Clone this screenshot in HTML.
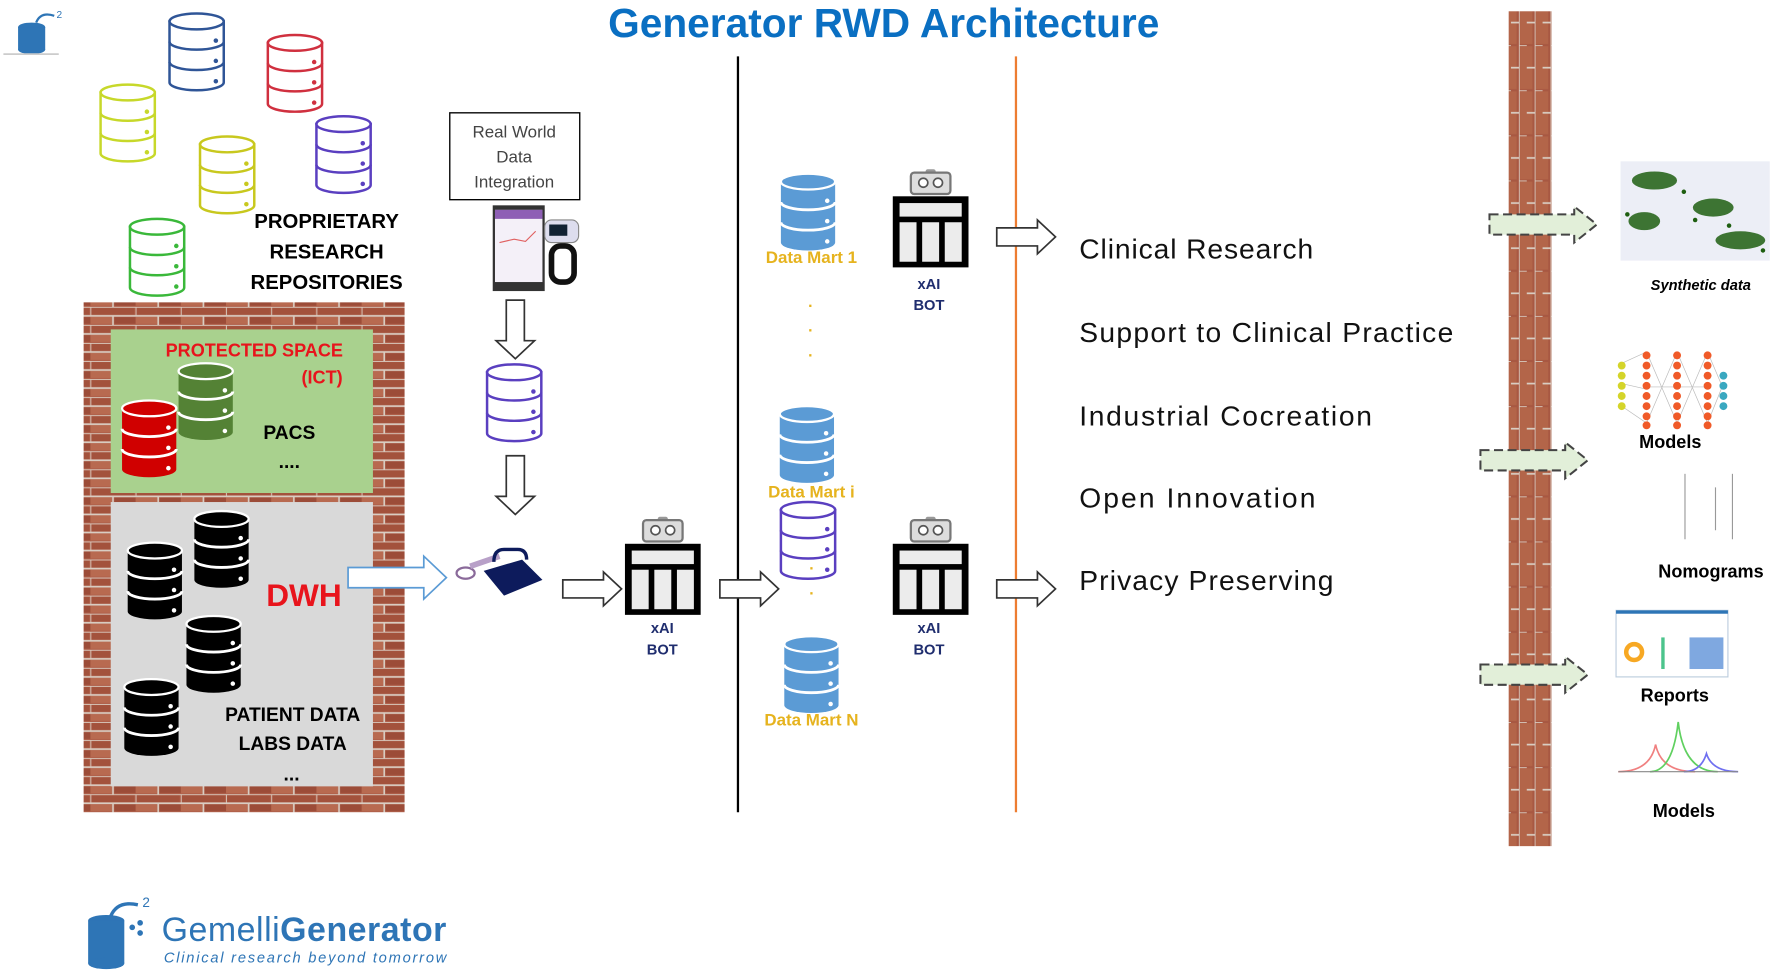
<!DOCTYPE html>
<html><head><meta charset="utf-8"><style>
html,body{margin:0;padding:0;background:#fff;width:1772px;height:977px;overflow:hidden}
svg{display:block}
text{font-family:"Liberation Sans","DejaVu Sans",sans-serif}
</style></head><body>
<svg width="1772" height="977" viewBox="0 0 1568 866" preserveAspectRatio="none" xmlns="http://www.w3.org/2000/svg">
<defs>
<pattern id="brick" width="40" height="16" patternUnits="userSpaceOnUse">
<rect width="40" height="16" fill="#b0604a"/>
<rect x="1" y="1" width="38" height="6" fill="#a3523c"/>
<rect x="-19" y="9" width="38" height="6" fill="#b86a50"/>
<rect x="21" y="9" width="38" height="6" fill="#9c4c38"/>
<path d="M0 0H40M0 8H40M0 0V8M20 8V16" stroke="#d9cdc2" stroke-width="1.5"/>
</pattern>
<pattern id="brickv" width="14" height="40" patternUnits="userSpaceOnUse">
<rect width="14" height="40" fill="#a85842"/>
<rect x="1" y="1" width="11" height="38" fill="#b36549"/>
<path d="M0 0V40M0 0H7M7 20H14" stroke="#d9cdc2" stroke-width="1.5"/>
</pattern>
<g id="cylO">
<path d="M1 8V62A24 7 0 0 0 49 62V8Z" fill="#fff" stroke="currentColor" stroke-width="2.2"/>
<ellipse cx="25" cy="8" rx="24" ry="7" fill="#fff" stroke="currentColor" stroke-width="2.2"/>
<path d="M1 26A24 7 0 0 0 49 26M1 44A24 7 0 0 0 49 44" fill="none" stroke="currentColor" stroke-width="2.2"/>
<circle cx="42" cy="25" r="2" fill="currentColor"/><circle cx="42" cy="43" r="2" fill="currentColor"/><circle cx="42" cy="61" r="2" fill="currentColor"/>
</g>
<g id="cylF">
<path d="M1 8V62A24 7 0 0 0 49 62V8Z" fill="currentColor"/>
<ellipse cx="25" cy="8" rx="24" ry="7" fill="currentColor" stroke="#fff" stroke-width="2"/>
<path d="M1 26A24 7 0 0 0 49 26M1 44A24 7 0 0 0 49 44" fill="none" stroke="#fff" stroke-width="2.5"/>
<circle cx="42" cy="25" r="2" fill="#fff"/><circle cx="42" cy="43" r="2" fill="#fff"/><circle cx="42" cy="61" r="2" fill="#fff"/>
</g>
<g id="bot">
<rect x="29" y="0" width="9" height="5" rx="2" fill="#999"/>
<rect x="16" y="3" width="35" height="19" rx="3" fill="#ddd" stroke="#777" stroke-width="2"/>
<circle cx="27" cy="12" r="4" fill="#fff" stroke="#555" stroke-width="1.5"/><circle cx="40" cy="12" r="4" fill="#fff" stroke="#555" stroke-width="1.5"/>
<rect x="0" y="24" width="67" height="63" fill="#000"/>
<rect x="6" y="30" width="55" height="12" fill="#ececec"/>
<rect x="6" y="47" width="15" height="35" fill="#ececec"/><rect x="26" y="47" width="15" height="35" fill="#ececec"/><rect x="46" y="47" width="15" height="35" fill="#ececec"/>
</g>
<polygon id="arR" points="0,-8 36,-8 36,-15 52,0 36,15 36,8 0,8" fill="#fff" stroke="#333" stroke-width="1.5"/>
<polygon id="arD" points="-8,0 8,0 8,36 17,36 0,52 -17,36 -8,36" fill="#fff" stroke="#333" stroke-width="1.5"/>
<polygon id="arG" points="0,-9 75,-9 75,-16 95,0 75,16 75,9 0,9" fill="#e2efd9" stroke="#444" stroke-width="1.8" stroke-dasharray="8,4"/>
</defs>

<g transform="translate(10,10)" fill="#2e75b6">
<ellipse cx="18" cy="14" rx="12" ry="4"/><rect x="6" y="14" width="24" height="20"/><ellipse cx="18" cy="34" rx="12" ry="4"/>
<path d="M22 10 Q26 0 38 4" stroke="#2e75b6" stroke-width="2" fill="none"/><text x="40" y="6" font-size="9">2</text>
</g>
<line x1="3" y1="48" x2="52" y2="48" stroke="#ccc" stroke-width="1.5"/>

<text x="782" y="33" text-anchor="middle" font-size="36" font-weight="bold" fill="#0a6fc2">Generator RWD Architecture</text>

<use href="#cylO" x="149" y="11" style="color:#2f5597"/>
<use href="#cylO" x="236" y="30" style="color:#d0303f"/>
<use href="#cylO" x="88" y="74" style="color:#c7d82a"/>
<use href="#cylO" x="176" y="120" style="color:#c8c81e"/>
<use href="#cylO" x="279" y="102" style="color:#5a3fc0"/>
<use href="#cylO" x="114" y="193" style="color:#3ab83a"/>
<text x="289" y="202" text-anchor="middle" font-size="18" font-weight="bold" fill="#000">PROPRIETARY</text>
<text x="289" y="229" text-anchor="middle" font-size="18" font-weight="bold" fill="#000">RESEARCH</text>
<text x="289" y="256" text-anchor="middle" font-size="18" font-weight="bold" fill="#000">REPOSITORIES</text>

<rect x="74" y="268" width="284" height="452" fill="url(#brick)"/>
<rect x="98" y="292" width="232" height="145" fill="#a9d18e"/>
<rect x="98" y="445" width="232" height="252" fill="#d9d9d9"/>
<text x="225" y="316" text-anchor="middle" font-size="16" font-weight="bold" fill="#e8141c">PROTECTED SPACE</text>
<text x="285" y="340" text-anchor="middle" font-size="16" font-weight="bold" fill="#e8141c">(ICT)</text>
<use href="#cylF" x="107" y="354" style="color:#d00000"/>
<use href="#cylF" x="157" y="321" style="color:#548235"/>
<text x="256" y="389" text-anchor="middle" font-size="17" font-weight="bold">PACS</text>
<text x="256" y="415" text-anchor="middle" font-size="17" font-weight="bold">....</text>
<use href="#cylF" x="112" y="480" style="color:#000"/>
<use href="#cylF" x="171" y="452" style="color:#000"/>
<use href="#cylF" x="164" y="545" style="color:#000"/>
<use href="#cylF" x="109" y="601" style="color:#000"/>
<text x="269" y="537" text-anchor="middle" font-size="28" font-weight="bold" fill="#e8141c">DWH</text>
<text x="259" y="639" text-anchor="middle" font-size="17" font-weight="bold">PATIENT DATA</text>
<text x="259" y="665" text-anchor="middle" font-size="17" font-weight="bold">LABS DATA</text>
<text x="258" y="692" text-anchor="middle" font-size="17" font-weight="bold">...</text>
<polygon points="308,503 375,503 375,493 395,512 375,531 375,521 308,521" fill="#fff" stroke="#5b9bd5" stroke-width="1.5"/>

<rect x="398" y="100" width="115" height="77" fill="#fff" stroke="#000" stroke-width="1.2"/>
<text x="455" y="122" text-anchor="middle" font-size="15" fill="#444">Real World</text>
<text x="455" y="144" text-anchor="middle" font-size="15" fill="#444">Data</text>
<text x="455" y="166" text-anchor="middle" font-size="15" fill="#444">Integration</text>
<rect x="436" y="182" width="46" height="76" fill="#333"/>
<rect x="438" y="186" width="42" height="64" fill="#f4f0f8"/>
<rect x="438" y="186" width="42" height="8" fill="#8e5fb5"/>
<path d="M442 215 L455 212 L465 214 L474 205" stroke="#e06060" fill="none"/>
<rect x="482" y="195" width="30" height="20" rx="6" fill="#dde" stroke="#888"/>
<rect x="486" y="199" width="16" height="10" fill="#123"/>
<rect x="488" y="218" width="20" height="32" rx="8" fill="none" stroke="#111" stroke-width="5"/>
<use href="#arD" x="456" y="266"/>
<use href="#cylO" x="430" y="322" style="color:#5a3fc0"/>
<use href="#arD" x="456" y="404"/>
<ellipse cx="412" cy="508" rx="8" ry="5" fill="none" stroke="#8a6a9a" stroke-width="2"/>
<path d="M416 502 L442 493" stroke="#b8a0c8" stroke-width="5"/>
<path d="M437 498 Q437 487 446 487 L458 487 Q466 487 466 496" fill="none" stroke="#0d1b5c" stroke-width="3"/>
<polygon points="428,506 462,496 480,514 446,528" fill="#0d1b5c"/>
<use href="#arR" x="498" y="522"/>

<use href="#bot" x="553" y="458"/>
<text x="586" y="561" text-anchor="middle" font-size="13" font-weight="bold" fill="#1f2d6e">xAI</text>
<text x="586" y="580" text-anchor="middle" font-size="13" font-weight="bold" fill="#1f2d6e">BOT</text>

<line x1="653" y1="50" x2="653" y2="720" stroke="#000" stroke-width="2"/>
<use href="#arR" x="637" y="522"/>

<use href="#cylF" x="690" y="153" style="color:#5b9bd5"/>
<text x="718" y="233" text-anchor="middle" font-size="15" font-weight="bold" fill="#e6b31e">Data Mart 1</text>
<text x="717" y="272" text-anchor="middle" font-size="14" font-weight="bold" fill="#e6b31e">.</text>
<text x="717" y="294" text-anchor="middle" font-size="14" font-weight="bold" fill="#e6b31e">.</text>
<text x="717" y="316" text-anchor="middle" font-size="14" font-weight="bold" fill="#e6b31e">.</text>
<use href="#cylF" x="689" y="359" style="color:#5b9bd5"/>
<text x="718" y="441" text-anchor="middle" font-size="15" font-weight="bold" fill="#e6b31e">Data Mart i</text>
<use href="#cylO" x="690" y="444" style="color:#5a3fc0"/>
<text x="718" y="505" text-anchor="middle" font-size="14" font-weight="bold" fill="#e6b31e">.</text>
<text x="718" y="527" text-anchor="middle" font-size="14" font-weight="bold" fill="#e6b31e">.</text>
<use href="#cylF" x="693" y="563" style="color:#5b9bd5"/>
<text x="718" y="643" text-anchor="middle" font-size="15" font-weight="bold" fill="#e6b31e">Data Mart N</text>

<use href="#bot" x="790" y="150"/>
<text x="822" y="256" text-anchor="middle" font-size="13" font-weight="bold" fill="#1f2d6e">xAI</text>
<text x="822" y="275" text-anchor="middle" font-size="13" font-weight="bold" fill="#1f2d6e">BOT</text>
<use href="#bot" x="790" y="458"/>
<text x="822" y="561" text-anchor="middle" font-size="13" font-weight="bold" fill="#1f2d6e">xAI</text>
<text x="822" y="580" text-anchor="middle" font-size="13" font-weight="bold" fill="#1f2d6e">BOT</text>

<line x1="899" y1="50" x2="899" y2="720" stroke="#ed7d31" stroke-width="2"/>
<use href="#arR" x="882" y="210"/>
<use href="#arR" x="882" y="522"/>

<g font-size="25" fill="#111">
<text x="955" y="229" textLength="207" lengthAdjust="spacing">Clinical Research</text>
<text x="955" y="303" textLength="331" lengthAdjust="spacing">Support to Clinical Practice</text>
<text x="955" y="377" textLength="259" lengthAdjust="spacing">Industrial Cocreation</text>
<text x="955" y="450" textLength="209" lengthAdjust="spacing">Open Innovation</text>
<text x="955" y="523" textLength="225" lengthAdjust="spacing">Privacy Preserving</text>
</g>

<rect x="1335" y="10" width="38" height="740" fill="url(#brickv)"/>
<use href="#arG" x="1318" y="199"/>
<use href="#arG" x="1310" y="408"/>
<use href="#arG" x="1310" y="598"/>

<rect x="1434" y="143" width="132" height="88" fill="#eceef6"/>
<g fill="#1e5e10">
<ellipse cx="1464" cy="160" rx="20" ry="8" opacity=".85"/>
<ellipse cx="1455" cy="196" rx="14" ry="8" opacity=".85"/>
<ellipse cx="1516" cy="184" rx="18" ry="8" opacity=".85"/>
<ellipse cx="1540" cy="213" rx="22" ry="8" opacity=".85"/>
<circle cx="1490" cy="170" r="2"/><circle cx="1500" cy="195" r="2"/><circle cx="1530" cy="200" r="2"/><circle cx="1440" cy="190" r="2"/><circle cx="1560" cy="222" r="2"/>
</g>
<text x="1505" y="257" text-anchor="middle" font-size="13" font-weight="bold" font-style="italic">Synthetic data</text>

<g stroke="#bbb" stroke-width="0.6">
<path d="M1435 322L1457 312M1435 360L1457 375M1457 312L1484 375M1457 375L1484 312M1484 312L1511 375M1484 375L1511 312M1511 312L1525 345M1511 375L1525 340M1435 340L1457 345M1457 343L1511 343"/>
</g>
<g fill="#d4d42a"><circle cx="1435" cy="324" r="3.5"/><circle cx="1435" cy="333" r="3.5"/><circle cx="1435" cy="342" r="3.5"/><circle cx="1435" cy="351" r="3.5"/><circle cx="1435" cy="360" r="3.5"/></g>
<g fill="#f05a28">
<circle cx="1457" cy="315" r="3.5"/><circle cx="1457" cy="324" r="3.5"/><circle cx="1457" cy="333" r="3.5"/><circle cx="1457" cy="342" r="3.5"/><circle cx="1457" cy="351" r="3.5"/><circle cx="1457" cy="360" r="3.5"/><circle cx="1457" cy="369" r="3.5"/><circle cx="1457" cy="377" r="3.5"/>
<circle cx="1484" cy="315" r="3.5"/><circle cx="1484" cy="324" r="3.5"/><circle cx="1484" cy="333" r="3.5"/><circle cx="1484" cy="342" r="3.5"/><circle cx="1484" cy="351" r="3.5"/><circle cx="1484" cy="360" r="3.5"/><circle cx="1484" cy="369" r="3.5"/><circle cx="1484" cy="377" r="3.5"/>
<circle cx="1511" cy="315" r="3.5"/><circle cx="1511" cy="324" r="3.5"/><circle cx="1511" cy="333" r="3.5"/><circle cx="1511" cy="342" r="3.5"/><circle cx="1511" cy="351" r="3.5"/><circle cx="1511" cy="360" r="3.5"/><circle cx="1511" cy="369" r="3.5"/><circle cx="1511" cy="377" r="3.5"/>
</g>
<g fill="#3aa8c0"><circle cx="1525" cy="333" r="3.5"/><circle cx="1525" cy="342" r="3.5"/><circle cx="1525" cy="351" r="3.5"/><circle cx="1525" cy="360" r="3.5"/></g>
<text x="1478" y="397" text-anchor="middle" font-size="16" font-weight="bold">Models</text>

<g stroke="#999" stroke-width="1"><line x1="1491" y1="420" x2="1491" y2="478"/><line x1="1518" y1="432" x2="1518" y2="470"/><line x1="1533" y1="420" x2="1533" y2="478"/></g>
<text x="1514" y="512" text-anchor="middle" font-size="16" font-weight="bold">Nomograms</text>

<rect x="1430" y="541" width="99" height="59" fill="#fff" stroke="#bcd" stroke-width="1"/>
<rect x="1430" y="541" width="99" height="3" fill="#2e75b6"/>
<circle cx="1446" cy="578" r="7" fill="none" stroke="#f7a823" stroke-width="4"/>
<rect x="1470" y="565" width="3" height="28" fill="#4cc48c"/>
<rect x="1495" y="565" width="30" height="28" fill="#7fa8e0"/>
<text x="1482" y="622" text-anchor="middle" font-size="16" font-weight="bold">Reports</text>

<path d="M1432 684 Q1460 684 1465 660 Q1470 684 1500 684" fill="none" stroke="#f08080" stroke-width="1.5"/>
<path d="M1460 684 Q1480 684 1485 640 Q1490 684 1520 684" fill="none" stroke="#60d060" stroke-width="1.5"/>
<path d="M1490 684 Q1505 684 1510 668 Q1515 684 1538 684" fill="none" stroke="#7070f0" stroke-width="1.5"/>
<line x1="1432" y1="684" x2="1538" y2="684" stroke="#888"/>
<text x="1490" y="724" text-anchor="middle" font-size="16" font-weight="bold">Models</text>

<g transform="translate(72,800)" fill="#2e75b6">
<ellipse cx="22" cy="16" rx="16" ry="5"/><rect x="6" y="16" width="32" height="38"/><ellipse cx="22" cy="54" rx="16" ry="5"/>
<path d="M26 12 Q32 -2 50 2" stroke="#2e75b6" stroke-width="3" fill="none"/>
<circle cx="45" cy="22" r="2.5"/><circle cx="52" cy="18" r="2.5"/><circle cx="52" cy="27" r="2.5"/>
<text x="54" y="4" font-size="12">2</text>
</g>
<text x="143" y="834" font-size="30" fill="#2e75b6" textLength="252" lengthAdjust="spacing">Gemelli<tspan font-weight="bold">Generator</tspan></text>
<text x="145" y="853" font-size="13" font-style="italic" fill="#2e75b6" textLength="250" lengthAdjust="spacing">Clinical research beyond tomorrow</text>
</svg>
</body></html>
